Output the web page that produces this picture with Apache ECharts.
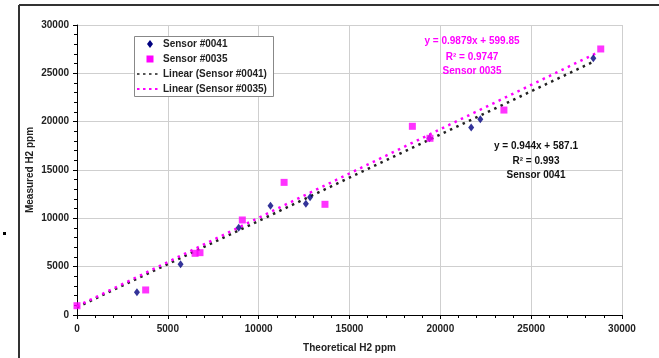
<!DOCTYPE html>
<html><head><meta charset="utf-8">
<script src="https://cdn.jsdelivr.net/npm/echarts@6/dist/echarts.min.js"></script>
<style>html,body{margin:0;padding:0;background:#fff}#c{width:659px;height:358px}</style>
</head><body><div id="c"></div>
<script>
// Sensor #0041 (theoretical, measured)
const sensor0041 = [[3300,2350],[5700,5250],[8900,9030],[10650,11300],[12600,11500],[12830,12170],[19400,18280],[21700,19400],[22200,20240],[28420,26550]];
// Sensor #0035
const sensor0035 = [[0,960],[3780,2590],[6500,6380],[6770,6450],[9100,9830],[11400,13720],[13650,11450],[18460,19520],[19430,18280],[23500,21200],[28830,27520]];
// Trend line end points as drawn
const trend0041 = [[0,800],[28420,26200]];
const trend0035 = [[0,900],[28600,27100]];
const xTicks = [0,5000,10000,15000,20000,25000,30000];
const yTicks = [0,5000,10000,15000,20000,25000,30000];
const names = ['Sensor #0041','Sensor #0035','Linear (Sensor #0041)','Linear (Sensor #0035)'];
const eq0035 = ['y = 0.9879x + 599.85','R² = 0.9747','Sensor 0035'];
const eq0041 = ['y = 0.944x + 587.1','R² = 0.993','Sensor 0041'];

const NAVY='#000080', MAG='#FF00FF';
const F='Arial, "Liberation Sans", sans-serif';
const chart = echarts.init(document.getElementById('c'));
const axisCommon = {
  type:'value', min:xTicks[0], max:xTicks[xTicks.length-1], interval:5000,
  axisLine:{show:true,lineStyle:{color:'#000',width:1}},
  axisTick:{show:true,length:4,lineStyle:{color:'#000'}},
  minorTick:{show:true,splitNumber:5,length:3,lineStyle:{color:'#000'}},
  splitLine:{show:true,lineStyle:{color:'#cfcfcf',width:1}},
  axisLabel:{color:'#222',fontFamily:F,fontSize:10,fontWeight:'bold',formatter:v=>String(v)},
  nameTextStyle:{color:'#222',fontFamily:F,fontSize:10,fontWeight:'bold'}
};

const G = [];
G.push({type:'line',shape:{x1:19,y1:5,x2:659,y2:5},style:{stroke:'#333',lineWidth:2},silent:true});
G.push({type:'line',shape:{x1:19,y1:5,x2:19,y2:358},style:{stroke:'#333',lineWidth:2},silent:true});
G.push({type:'rect',shape:{x:3,y:232,width:3,height:3},style:{fill:'#000'},silent:true});
// legend box
G.push({type:'rect',shape:{x:134.5,y:36.5,width:139,height:60},style:{fill:'#fff',stroke:'#888',lineWidth:1},z:10,silent:true});
const legY=[44,59,74,89];
G.push({type:'polygon',shape:{points:[[150,40],[153,44],[150,48],[147,44]]},style:{fill:NAVY},z:11,silent:true});
G.push({type:'rect',shape:{x:146.5,y:55.5,width:7,height:7},style:{fill:MAG},z:11,silent:true});
G.push({type:'line',shape:{x1:137,y1:74,x2:161,y2:74},style:{stroke:'#555',lineWidth:2,lineDash:[2.5,3.5]},z:11,silent:true});
G.push({type:'line',shape:{x1:137,y1:89,x2:161,y2:89},style:{stroke:MAG,lineWidth:2,lineDash:[2.5,3.5]},z:11,silent:true});
names.forEach((n,i)=>G.push({type:'text',z:11,silent:true,style:{x:163,y:legY[i],text:n,fill:'#222',font:'bold 10px '+F,textAlign:'left',textVerticalAlign:'middle'}}));
const eqY35=[41,57,71], eqY41=[146,161,175];
eq0035.forEach((t,i)=>G.push({type:'text',z:11,silent:true,style:{x:472,y:eqY35[i],text:t,fill:MAG,font:'bold 10px '+F,textAlign:'center',textVerticalAlign:'middle'}}));
eq0041.forEach((t,i)=>G.push({type:'text',z:11,silent:true,style:{x:536,y:eqY41[i],text:t,fill:'#111',font:'bold 10px '+F,textAlign:'center',textVerticalAlign:'middle'}}));

chart.setOption({
  animation:false,
  backgroundColor:'#fff',
  grid:{left:77,right:37,top:25,bottom:43,containLabel:false},
  xAxis:Object.assign({},axisCommon,{name:'Theoretical H2 ppm',nameLocation:'middle',nameGap:28,
    axisLabel:Object.assign({},axisCommon.axisLabel,{margin:9})}),
  yAxis:Object.assign({},axisCommon,{min:yTicks[0],max:yTicks[yTicks.length-1],name:'Measured H2 ppm',nameLocation:'middle',nameGap:47,
    nameMoveOverlap:false,
    nameTextStyle:Object.assign({},axisCommon.nameTextStyle,{verticalAlign:'middle'}),
    axisLabel:Object.assign({},axisCommon.axisLabel,{margin:8})}),
  series:[
    {name:names[2],type:'line',data:trend0041,symbol:'none',silent:true,z:2,
      lineStyle:{color:'#222',width:2.5,type:[2.5,4.5]}},
    {name:names[3],type:'line',data:trend0035,symbol:'none',silent:true,z:2,
      lineStyle:{color:MAG,width:2.5,type:[2.5,4.5]}},
    {name:names[0],type:'scatter',data:sensor0041,symbol:'diamond',symbolSize:[6,8],z:3,
      itemStyle:{color:NAVY}},
    {name:names[1],type:'scatter',data:sensor0035,symbol:'rect',symbolSize:7,z:4,
      itemStyle:{color:MAG}}
  ],
  graphic:G
});
</script></body></html>
